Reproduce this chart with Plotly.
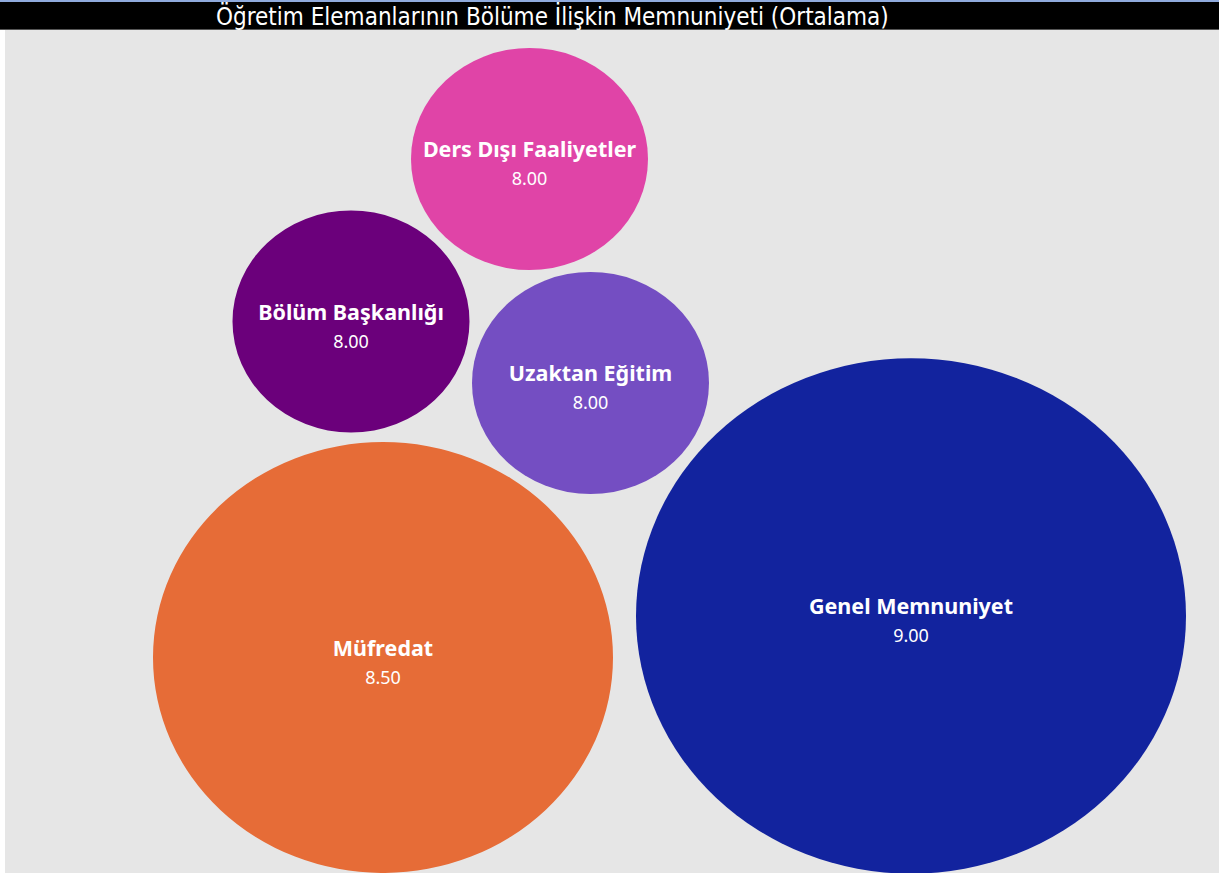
import numpy as np
import plotly.graph_objects as go

# ---- data ----
categories = ["Ders Dışı Faaliyetler", "Bölüm Başkanlığı", "Uzaktan Eğitim", "Müfredat", "Genel Memnuniyet"]
values = [8.00, 8.00, 8.00, 8.50, 9.00]
title_text = "Öğretim Elemanlarının Bölüme İlişkin Memnuniyeti (Ortalama)"

# ---- styles / layout (packed-bubble placement) ----
colors = ["#E044A7", "#6B007B", "#744EC2", "#E66C37", "#12239E"]
centers_x = [529.5, 351.0, 590.5, 383.0, 911.0]
centers_y = [159.0, 321.5, 383.0, 657.5, 616.0]
size_scale_v = [8.0, 8.5, 9.0]
size_scale_r = [118.5, 230.0, 275.0]
aspect = 0.937

W, H = 1219, 877
L, T, B = 5, 30, 4
PH = H - T - B
PW = W - L

fig = go.Figure()

rx = np.interp(values, size_scale_v, size_scale_r)
ry = rx * aspect
shapes = []
for cx, cy, a, b, col in zip(centers_x, centers_y, rx, ry, colors):
    shapes.append(dict(type="circle", xref="x", yref="y",
                       x0=cx - a, x1=cx + a, y0=cy - b, y1=cy + b,
                       fillcolor=col, line=dict(width=0), layer="below"))

def py(p):  # pixel row -> paper y
    return (H - B - p) / PH

def px(p):  # pixel col -> paper x
    return (p - L) / PW

# title bar
shapes.append(dict(type="rect", xref="paper", yref="paper", x0=px(0), x1=px(W),
                   y0=py(30), y1=py(2), fillcolor="#000000",
                   line=dict(width=0), layer="above"))
shapes.append(dict(type="rect", xref="paper", yref="paper", x0=px(0), x1=px(W),
                   y0=py(2), y1=py(0), fillcolor="#8FAADC",
                   line=dict(width=0), layer="above"))
shapes.append(dict(type="rect", xref="paper", yref="paper", x0=px(0), x1=px(W),
                   y0=py(30), y1=py(29), fillcolor="#555555",
                   line=dict(width=0), layer="above"))

labels = [f"<b>{c}</b><br><span style='font-size:18px'>{v:.2f}</span>" for c, v in zip(categories, values)]
fig.add_trace(go.Scatter(
    x=centers_x, y=[y + 7 for y in centers_y], mode="text", text=labels,
    textposition="middle center",
    textfont=dict(family="Noto Sans", size=21.5, color="white"),
    hoverinfo="skip", showlegend=False, cliponaxis=False))

fig.update_layout(
    width=W, height=H,
    margin=dict(l=L, r=0, t=T, b=B),
    paper_bgcolor="white", plot_bgcolor="#E6E6E6",
    shapes=shapes,
    xaxis=dict(range=[L, W], visible=False, fixedrange=True),
    yaxis=dict(range=[H - B, T], visible=False, fixedrange=True),
    annotations=[dict(text=title_text, xref="paper", yref="paper",
                      x=px(552), y=py(16),
                      xanchor="center", yanchor="middle", showarrow=False,
                      font=dict(family="DejaVu Sans Condensed, DejaVu Sans", size=24, color="white"))],
)

fig.write_html("out.html", config={"displayModeBar": False},
               post_script="document.body.style.margin='0px';document.body.style.overflow='hidden';")
